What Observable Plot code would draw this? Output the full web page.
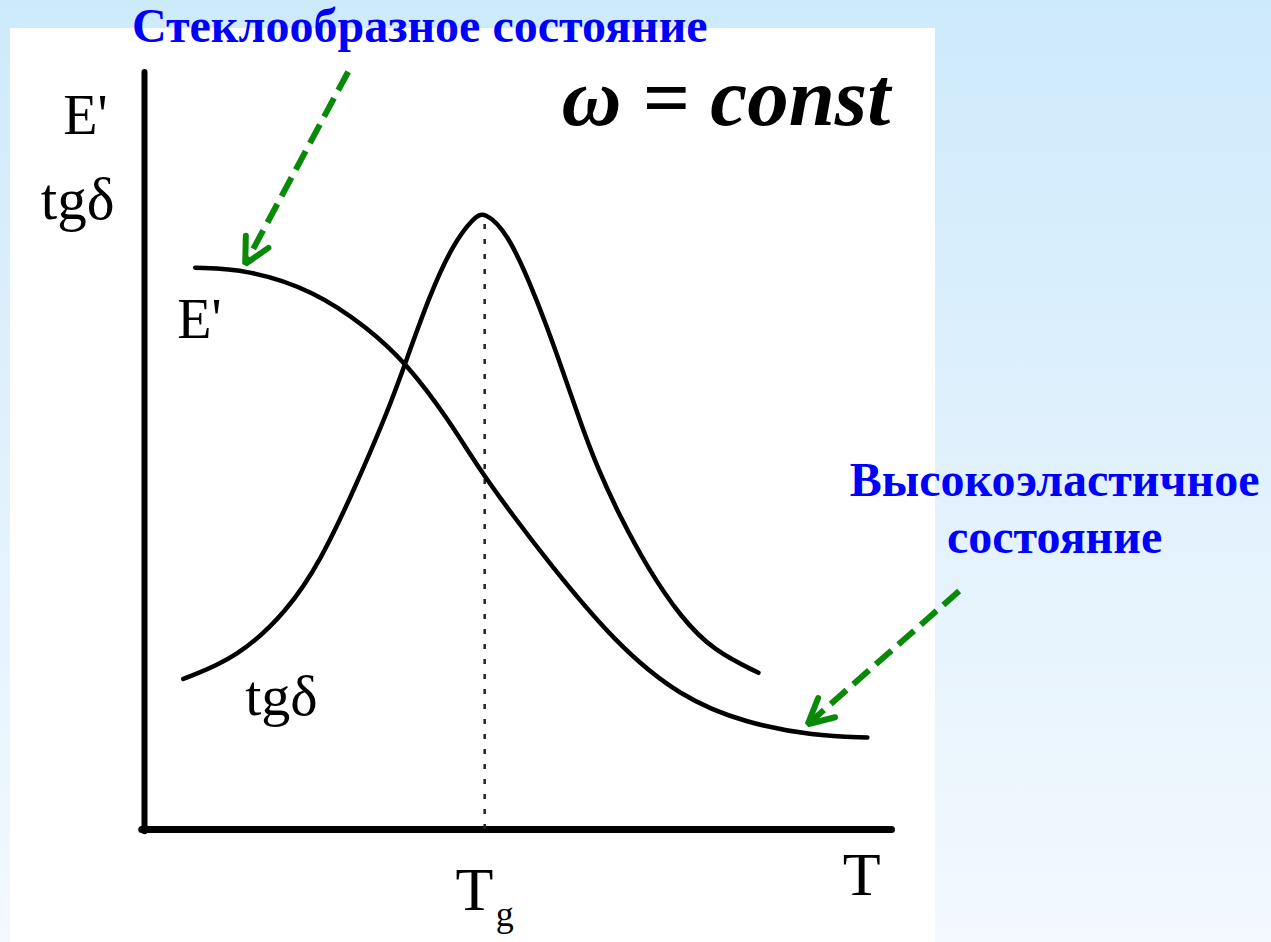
<!DOCTYPE html>
<html>
<head>
<meta charset="utf-8">
<script src="https://cdn.jsdelivr.net/npm/d3@7"></script>
<script src="https://cdn.jsdelivr.net/npm/@observablehq/plot@0.6"></script>
<style>
  html, body { margin: 0; padding: 0; }
  body { width: 1271px; height: 942px; overflow: hidden; position: relative;
         background: linear-gradient(to bottom, #cdeafb 0%, #e3f2fd 55%, #f3f9fe 100%); }
  #panel { position: absolute; left: 10px; top: 28px; width: 925px; height: 914px; background: #ffffff; }
  #chart { position: absolute; left: 0; top: 0; }
</style>
</head>
<body>
<div id="panel"></div>
<div id="chart"></div>
<script>
// E' (storage modulus) curve vs temperature T (relative units 0..100)
const eT = [6.8, 13.8, 22.7, 29.9, 35.0, 40.6, 45.0, 49.5, 54.0, 62.9, 71.9, 80.8, 89.7, 96.9];
const eV = [74.2, 74.0, 71.2, 66.3, 61.7, 54.4, 47.4, 41.35, 35.5, 24.8, 17.4, 14.0, 12.4, 12.15];
// tg δ (loss tangent) curve
const dT = [5.2, 12.5, 19.2, 23.6, 28.0, 32.6, 35.0, 38.3, 41.4, 44.1, 45.6, 48.7, 51.7, 54.0, 56.2, 58.5, 60.7, 63.8, 67.4, 71.9, 76.3, 82.3];
const dV = [19.9, 22.7, 28.9, 35.5, 44.65, 55.2, 61.7, 70.8, 77.4, 80.8, 81.7, 78.7, 72.1, 66.3, 60.2, 53.6, 47.8, 41.2, 34.6, 28.0, 23.6, 20.7];
const Tg = 45.6;
const tgPeak = 80.3;
// texts
const yAxisLabels = ["E'", "tgδ"];
const curveLabels = ["E'", "tgδ"];
const xAxisLabel = "T";
const tgLabel = ["T", "g"];
const formula = "ω = const";
const glassText = "Стеклообразное состояние";
const rubberText = ["Высокоэластичное", "состояние"];

const eData = eT.map((t, i) => ({T: t, v: eV[i]}));
const dData = dT.map((t, i) => ({T: t, v: dV[i]}));

const serif = "'Liberation Serif', 'DejaVu Serif', serif";
const green = "#088a08";
const blue = "#0000ff";

const plot = Plot.plot({
  width: 1271,
  height: 942,
  marginLeft: 144,
  marginRight: 381,
  marginTop: 72,
  marginBottom: 113,
  x: {domain: [0, 100], axis: null},
  y: {domain: [0, 100], axis: null},
  style: {background: "transparent", overflow: "visible"},
  marks: [
    // axes
    Plot.ruleX([0], {y1: -0.3, y2: 100, strokeWidth: 6, stroke: "#000", strokeLinecap: "round"}),
    Plot.ruleY([0], {x1: -0.3, x2: 100.2, strokeWidth: 7, stroke: "#000", strokeLinecap: "round"}),
    // Tg dotted line
    Plot.ruleX([Tg], {y1: 0, y2: tgPeak, stroke: "#222", strokeWidth: 2.5, strokeDasharray: "5,10"}),
    // curves
    Plot.line(eData, {x: "T", y: "v", curve: "basis", stroke: "#000", strokeWidth: 4.5, strokeLinecap: "round"}),
    Plot.line(dData, {x: "T", y: "v", curve: "basis", stroke: "#000", strokeWidth: 4.5, strokeLinecap: "round"}),
    // labels
    Plot.text([yAxisLabels[0]], {x: -10.9, y: 91.9, text: d => d, textAnchor: "start", lineAnchor: "bottom", fontFamily: serif, fontSize: 56, fill: "#000"}),
    Plot.text([yAxisLabels[1]], {x: -13.9, y: 80.7, text: d => d, textAnchor: "start", lineAnchor: "bottom", fontFamily: serif, fontSize: 59, fill: "#000"}),
    Plot.text([curveLabels[0]], {x: 4.4, y: 64.9, text: d => d, textAnchor: "start", lineAnchor: "bottom", fontFamily: serif, fontSize: 56, fill: "#000"}),
    Plot.text([curveLabels[1]], {x: 13.5, y: 15.1, text: d => d, textAnchor: "start", lineAnchor: "bottom", fontFamily: serif, fontSize: 58, fill: "#000"}),
    Plot.text([xAxisLabel], {x: 93.6, y: -8.7, text: d => d, textAnchor: "start", lineAnchor: "bottom", fontFamily: serif, fontSize: 62, fill: "#000"}),
    Plot.text([tgLabel[0]], {x: 41.7, y: -10.7, text: d => d, textAnchor: "start", lineAnchor: "bottom", fontFamily: serif, fontSize: 62, fill: "#000"}),
    Plot.text([tgLabel[1]], {x: 47.1, y: -12.8, text: d => d, textAnchor: "start", lineAnchor: "bottom", fontFamily: serif, fontSize: 36, fill: "#000"}),
    Plot.text([formula], {x: 55.9, y: 93.0, text: d => d, textAnchor: "start", lineAnchor: "bottom", fontFamily: serif, fontSize: 83, fontWeight: "bold", fontStyle: "italic", fill: "#000"}),
    Plot.text([glassText], {x: 36.9, y: 104.0, text: d => d, textAnchor: "middle", lineAnchor: "bottom", fontFamily: serif, fontSize: 48, fontWeight: "bold", fill: blue}),
    Plot.text([rubberText[0]], {x: 122.0, y: 44.1, text: d => d, textAnchor: "middle", lineAnchor: "bottom", fontFamily: serif, fontSize: 48, fontWeight: "bold", fill: blue}),
    Plot.text([rubberText[1]], {x: 122.0, y: 36.5, text: d => d, textAnchor: "middle", lineAnchor: "bottom", fontFamily: serif, fontSize: 48, fontWeight: "bold", fill: blue}),
    // green dashed arrows
    Plot.link([{x1: 27.3, y1: 100.1, x2: 13.5, y2: 74.7}], {x1: "x1", y1: "y1", x2: "x2", y2: "y2", stroke: green, strokeWidth: 6, strokeDasharray: "21,9", markerEnd: "arrow"}),
    Plot.link([{x1: 109.2, y1: 31.5, x2: 88.9, y2: 13.9}], {x1: "x1", y1: "y1", x2: "x2", y2: "y2", stroke: green, strokeWidth: 6, strokeDasharray: "21,9", markerEnd: "arrow"})
  ]
});

// enlarge the arrow markers (solid, open V heads)
plot.querySelectorAll("marker").forEach(m => {
  m.setAttribute("viewBox", "-8 -8 16 16");
  m.setAttribute("markerWidth", 10.67);
  m.setAttribute("markerHeight", 10.67);
  m.setAttribute("stroke-dasharray", "none");
  m.setAttribute("stroke-width", 1.5);
  m.setAttribute("stroke-linecap", "round");
  m.setAttribute("stroke-linejoin", "miter");
  const p = m.querySelector("path");
  if (p) p.setAttribute("d", "M-6.3,-3.2L0,0L-6.3,3.2");
});

document.getElementById("chart").appendChild(plot);
</script>
</body>
</html>
